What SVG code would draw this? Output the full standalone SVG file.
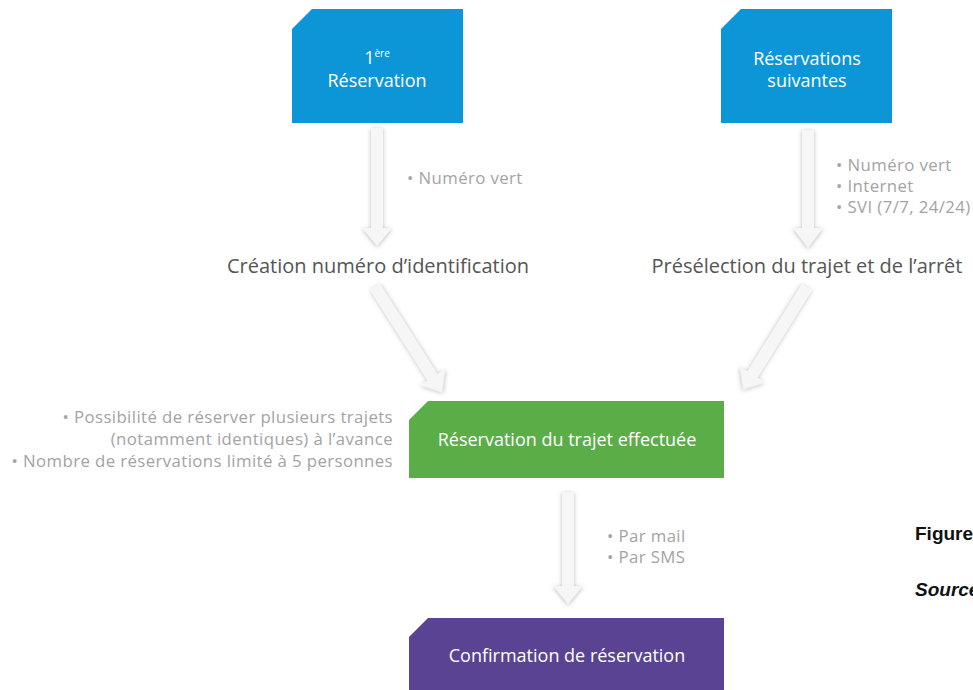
<svg xmlns="http://www.w3.org/2000/svg" width="973" height="690" viewBox="0 0 973 690">
<defs>
<filter id="sh" x="-50%" y="-20%" width="200%" height="140%">
<feDropShadow dx="0" dy="1" stdDeviation="2" flood-color="#888" flood-opacity="0.6"/>
</filter>
<style>
.t{font-family:"Open Sans","Noto Sans",sans-serif}
.w{fill:#ffffff;font-size:18px;text-anchor:middle}
.lbl{fill:#555555;font-size:20px;text-anchor:middle}
.note{fill:#a3a3a3;font-size:16.8px;letter-spacing:0.4px}
.arr{fill:#f6f6f6;filter:url(#sh)}
.fig{font-family:"Liberation Sans",Arial,sans-serif;font-weight:bold;font-size:19px;fill:#111}
</style>
</defs>
<rect width="973" height="690" fill="#ffffff"/>

<g id="connectors">
<path class="arr" d="M371,128 H383 V228 H392 L377,246 L362,228 H371 Z"/>
<path class="arr" d="M802,130 H814 V228 H823 L808,248 L793,228 H802 Z"/>
<path class="arr" d="M562,492 H574 V586 H583 L568,604 L553,586 H562 Z"/>
<g transform="translate(375,287) rotate(-32.5)"><path class="arr" d="M-6,0 H6 V107 H15 L0,125 L-15,107 H-6 Z"/></g>
<g transform="translate(807,287) rotate(31.9)"><path class="arr" d="M-6,0 H6 V103 H15 L0,121 L-15,103 H-6 Z"/></g>
</g>

<g id="node-premiere">
<path d="M312,9 H463 V123 H292 V29 Z" fill="#0d96d7"/>
<text class="t w" x="377" y="64"><tspan>1</tspan><tspan font-size="10" dy="-7">ère</tspan></text>
<text class="t w" x="377" y="87">Réservation</text>
</g>

<g id="node-suivantes">
<path d="M741,9 H892 V123 H721 V29 Z" fill="#0d96d7"/>
<text class="t w" x="807" y="65">Réservations</text>
<text class="t w" x="807" y="87">suivantes</text>
</g>

<g id="note-numero">
<text class="t note" x="407" y="184">• Numéro vert</text>
</g>

<g id="note-canaux">
<text class="t note" x="836" y="171">• Numéro vert</text>
<text class="t note" x="836" y="192">• Internet</text>
<text class="t note" x="836" y="213">• SVI (7/7, 24/24)</text>
</g>

<g id="node-creation">
<text class="t lbl" x="378" y="273">Création numéro d’identification</text>
</g>

<g id="node-preselection">
<text class="t lbl" x="807" y="273">Présélection du trajet et de l’arrêt</text>
</g>

<g id="note-possibilites">
<text class="t note" x="393" y="423" text-anchor="end">• Possibilité de réserver plusieurs trajets</text>
<text class="t note" x="393" y="445" text-anchor="end">(notamment identiques) à l’avance</text>
<text class="t note" x="393" y="467" text-anchor="end">• Nombre de réservations limité à 5 personnes</text>
</g>

<g id="node-effectuee">
<path d="M428,401 H724 V478 H409 V420 Z" fill="#5bad48"/>
<text class="t w" x="567" y="446">Réservation du trajet effectuée</text>
</g>

<g id="note-confirmation">
<text class="t note" x="607" y="542">• Par mail</text>
<text class="t note" x="607" y="563">• Par SMS</text>
</g>

<g id="node-confirmation">
<path d="M428,618 H724 V690 H409 V637 Z" fill="#594392"/>
<text class="t w" x="567" y="662">Confirmation de réservation</text>
</g>

<g id="caption">
<text class="fig" x="915" y="540">Figure</text>
<text class="fig" x="915" y="596" font-style="italic">Source</text>
</g>
</svg>
